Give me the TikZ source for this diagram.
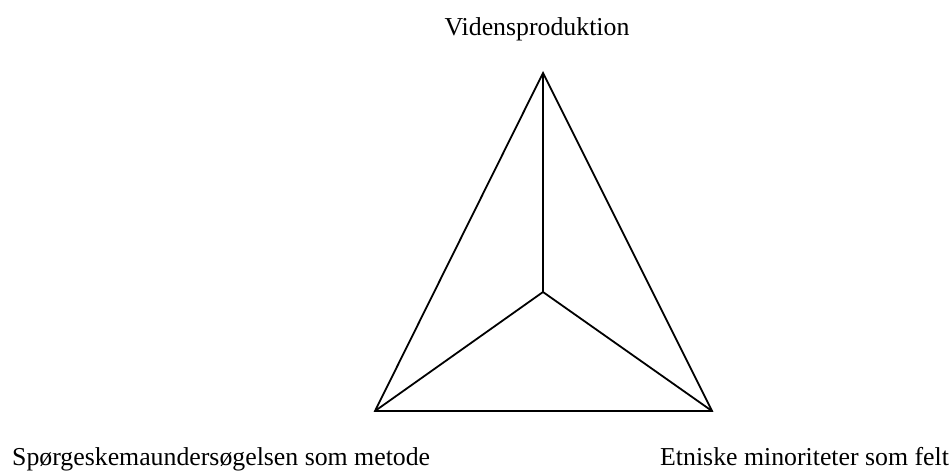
\documentclass[tikz,border=0pt]{standalone}
\usepackage{fontspec}
\setmainfont{Liberation Serif}
\begin{document}
\begin{tikzpicture}[x=1pt,y=-1pt,
  edge/.style={line width=1.8pt,black},
  lbl/.style={inner sep=0pt,font=\fontsize{25.8}{30}\selectfont}]
\useasboundingbox (0,0) rectangle (952,471);
\coordinate (T) at (543,73);
\coordinate (C) at (543,292);
\coordinate (L) at (375,411);
\coordinate (R) at (712,411);
\draw[edge] (L) -- (T) -- (R) -- cycle;
\draw[edge] (T) -- (C);
\draw[edge] (L) -- (C) -- (R);
\node[lbl,anchor=base] (top) at (537,35) {Vidensproduktion};
\node[lbl,anchor=base west] (left) at (12,465) {Spørgeskemaundersøgelsen som metode};
\node[lbl,anchor=base west] (right) at (660,465) {Etniske minoriteter som felt};
\end{tikzpicture}
\end{document}
